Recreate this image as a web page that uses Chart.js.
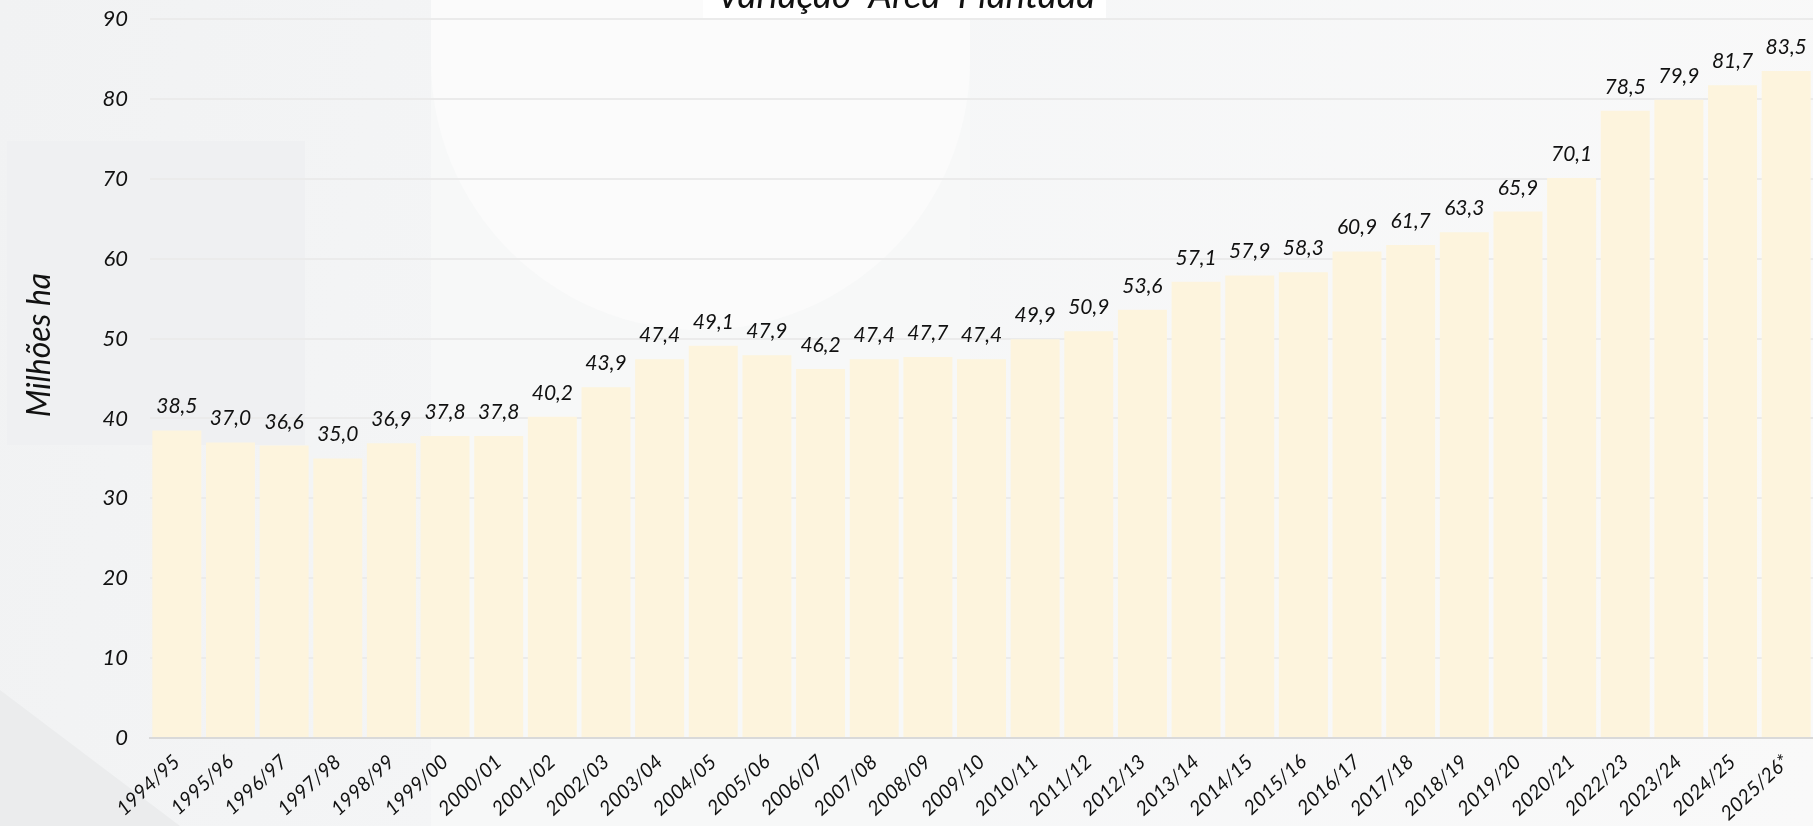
<!DOCTYPE html>
<html>
<head>
<meta charset="utf-8">
<script src="https://cdn.jsdelivr.net/npm/chart.js@4"></script>
<style>
    html, body { margin: 0; padding: 0; }
    body {
        width: 1813px; height: 826px; overflow: hidden; position: relative;
        background: linear-gradient(100deg, #f1f2f3 0%, #f5f6f7 40%, #f9f9f9 100%);
    }
    .deco { position: absolute; }
    #column { left: 431px; top: 0; width: 539px; height: 826px; background: #f7f8f8; }
    #panel  { left: 7px; top: 141px; width: 298px; height: 304px; background: #eff0f2; }
    #arch   { left: 431px; top: -270px; width: 539px; height: 600px; background: #fbfbfb; border-radius: 0 0 270px 270px; }
    #corner { left: 0; top: 690px; width: 180px; height: 136px; background: #ebeced; clip-path: polygon(0 0, 100% 100%, 0 100%); }
    #titlebox { left: 703px; top: 0; width: 403px; height: 20px; background: #ffffff; }
    canvas { position: absolute; left: 0; top: 0; }
</style>
</head>
<body>
<div class="deco" id="column"></div>
<div class="deco" id="panel"></div>
<div class="deco" id="arch"></div>
<div class="deco" id="corner"></div>
<div class="deco" id="titlebox"></div>
<canvas id="areaChart" width="1813" height="826"></canvas>
<script>
const safras = ['1994/95','1995/96','1996/97','1997/98','1998/99','1999/00','2000/01','2001/02','2002/03','2003/04',
                '2004/05','2005/06','2006/07','2007/08','2008/09','2009/10','2010/11','2011/12','2012/13','2013/14',
                '2014/15','2015/16','2016/17','2017/18','2018/19','2019/20','2020/21','2022/23','2023/24','2024/25','2025/26*'];
const areaPlantada = [38.5, 37.0, 36.6, 35.0, 36.9, 37.8, 37.8, 40.2, 43.9, 47.4,
                      49.1, 47.9, 46.2, 47.4, 47.7, 47.4, 49.9, 50.9, 53.6, 57.1,
                      57.9, 58.3, 60.9, 61.7, 63.3, 65.9, 70.1, 78.5, 79.9, 81.7, 83.5];
const yTicks = [0, 10, 20, 30, 40, 50, 60, 70, 80, 90];

const chartTitle = 'Variação  Área  Plantada';
const yTitle     = 'Milhões ha';
const FONT       = 'Lato, "Open Sans", sans-serif';

// ─── Plugins ───────────────────────────────

const valueLabels = {
    id: 'valueLabels',
    afterDatasetsDraw(chart) {
        const ctx = chart.ctx;
        const meta = chart.getDatasetMeta(0);
        ctx.save();
        ctx.font = `italic 21px ${FONT}`;
        ctx.fillStyle = '#111';
        ctx.textAlign = 'center';
        ctx.textBaseline = 'alphabetic';
        meta.data.forEach((bar, i) => {
            const txt = areaPlantada[i].toFixed(1).replace('.', ',');
            ctx.fillText(txt, bar.x, bar.y - 17);
        });
        ctx.restore();
    }
};

const extraText = {
    id: 'extraText',
    afterDraw(chart) {
        const ctx = chart.ctx;
        ctx.save();
        ctx.fillStyle = '#111';
        ctx.textAlign = 'center';
        ctx.textBaseline = 'alphabetic';
        ctx.font = `italic 37px ${FONT}`;
        ctx.fillText(chartTitle, 906, 8);

        ctx.translate(50, 345);
        ctx.rotate(-Math.PI / 2);
        ctx.font = `italic 32px ${FONT}`;
        ctx.fillText(yTitle, 0, 0);
        ctx.restore();
    }
};

// ─── Chart ─────────────────────────────────

new Chart(document.getElementById('areaChart').getContext('2d'), {
    type: 'bar',
    data: {
        labels: safras,
        datasets: [{
            label: 'Área plantada',
            data: areaPlantada,
            backgroundColor: '#fdf4dd',
            borderWidth: 0,
            categoryPercentage: 1,
            barPercentage: 0.913
        }]
    },
    options: {
        responsive: false,
        animation: false,
        layout: { padding: { top: 19, left: 0, right: 0, bottom: 0 } },
        plugins: { legend: { display: false }, tooltip: { enabled: false } },
        scales: {
            x: {
                grid: { display: false, drawTicks: false },
                border: { color: '#d9d9d9', width: 2 },
                ticks: {
                    autoSkip: false, maxRotation: 43, minRotation: 43, padding: 12,
                    color: '#111', font: { family: FONT, size: 20, style: 'italic' }
                },
                afterFit: s => { s.height = 88; s.paddingLeft = 0; s.paddingRight = 0; }
            },
            y: {
                min: 0, max: 90,
                afterBuildTicks: s => { s.ticks = yTicks.map(v => ({ value: v })); },
                grid: { color: '#ebebeb', lineWidth: 2, drawTicks: false },
                border: { display: false },
                ticks: {
                    padding: 22, color: '#111',
                    font: { family: FONT, size: 22, style: 'italic' }
                },
                afterFit: s => { s.width = 150; s.paddingTop = 0; s.paddingBottom = 0; }
            }
        }
    },
    plugins: [valueLabels, extraText]
});
</script>
</body>
</html>
